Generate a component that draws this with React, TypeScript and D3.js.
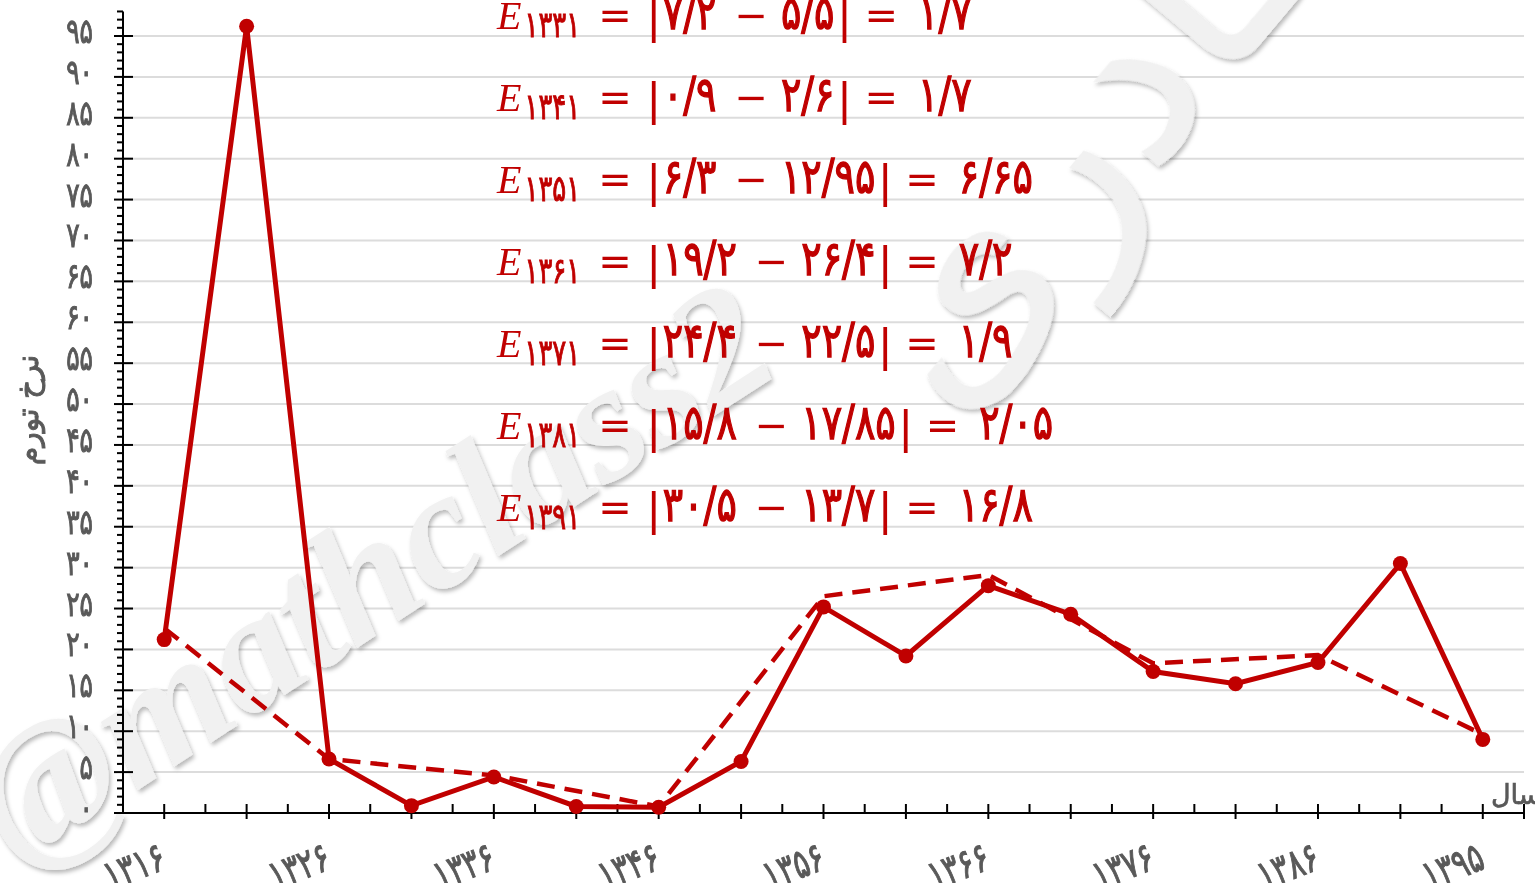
import React from 'react';
import * as d3 from 'd3';

// years on the x axis (one point every 5 years, last one 1395)
const years = [1316, 1321, 1326, 1331, 1336, 1341, 1346, 1351, 1356, 1361, 1366, 1371, 1376, 1381, 1386, 1391, 1395];
// inflation rate (solid line)
const inflation = [21.2, 96.2, 6.6, 0.9, 4.4, 0.8, 0.7, 6.3, 25.2, 19.2, 27.8, 24.3, 17.3, 15.8, 18.4, 30.5, 9.0];
// dashed line: every other year
const trendYears = [1316, 1326, 1336, 1346, 1356, 1366, 1376, 1386, 1395];
const trendValues = [22.6, 6.6, 4.6, 0.8, 26.5, 29.1, 18.3, 19.3, 9.6];
// labelled years on the x axis
const labelYears = [1316, 1326, 1336, 1346, 1356, 1366, 1376, 1386, 1395];
const yTicks = d3.range(0, 100, 5);

// error annotations
const errYears = [1331, 1341, 1351, 1361, 1371, 1381, 1391];
const errA = ['7/2', '0/9', '6/3', '19/2', '24/4', '15/8', '30/5'];
const errB = ['5/5', '2/6', '12/95', '26/4', '22/5', '17/85', '13/7'];
const errResult = ['1/7', '1/7', '6/65', '7/2', '1/9', '2/05', '16/8'];

const W = 1535;
const H = 883;
const RED = '#c00000';
const GREY = '#595959';
const FA = 'DejaVu Sans';

const fa = (v: string | number) => String(v).replace(/\d/g, (d) => '۰۱۲۳۴۵۶۷۸۹'[+d]);

let ctx: CanvasRenderingContext2D | null = null;
const measure = (text: string, font: string) => {
  if (!ctx) ctx = document.createElement('canvas').getContext('2d');
  ctx!.font = font;
  return ctx!.measureText(text).width;
};

// persian digits of DejaVu are short, so they get stretched vertically
const fonts: Record<string, { family: string; size: number; style?: string; sy: number; sw: number }> = {
  E: { family: 'Liberation Serif', size: 40, style: 'italic', sy: 1, sw: 0 },
  sub: { family: FA, size: 26, sy: 1.4, sw: 0.7 },
  op: { family: FA, size: 40, sy: 1, sw: 0 },
  bar: { family: 'Liberation Sans', size: 46, sy: 1, sw: 0 },
  num: { family: FA, size: 38, sy: 1.26, sw: 1.1 },
};

const Equation = ({ i, baseline }: { i: number; baseline: number }) => {
  const pieces = [
    { t: 'E', f: 'E', gap: 0, dy: 0 },
    { t: fa(errYears[i]), f: 'sub', gap: 3, dy: 8 },
    { t: '=', f: 'op', gap: 18, dy: 0 },
    { t: '|', f: 'bar', gap: 16, dy: 4 },
    { t: fa(errA[i]), f: 'num', gap: 3, dy: 0 },
    { t: '\u2212', f: 'op', gap: 18, dy: 0 },
    { t: fa(errB[i]), f: 'num', gap: 13, dy: 0 },
    { t: '|', f: 'bar', gap: 4, dy: 4 },
    { t: '=', f: 'op', gap: 14, dy: 0 },
    { t: fa(errResult[i]), f: 'num', gap: 20, dy: 0 },
  ];
  let x = 497;
  return (
    <g fill={RED}>
      {pieces.map((p, k) => {
        const f = fonts[p.f];
        x += p.gap;
        const px = x;
        x += measure(p.t, `${f.style || 'normal'} ${f.size}px '${f.family}'`);
        return (
          <text
            key={k}
            transform={`translate(${px},${baseline + p.dy}) scale(1,${f.sy})`}
            fontFamily={f.family}
            fontSize={f.size}
            fontStyle={f.style || 'normal'}
            stroke={f.sw ? RED : 'none'}
            strokeWidth={f.sw}
          >
            {p.t}
          </text>
        );
      })}
    </g>
  );
};

export default function App() {
  const x = d3.scaleLinear().domain([-0.5, 16.5]).range([123, 1524]);
  const y = d3.scaleLinear().domain([0, 95]).range([813, 36]);
  const xi = (yr: number) => x(years.indexOf(yr));

  const line = d3.line<number>().x((_, i) => x(i)).y((d) => y(d));
  const trendLine = d3
    .line<number>()
    .x((_, i) => xi(trendYears[i]))
    .y((d) => y(d));

  const minorY = d3.range(1, 99).filter((v) => v % 5 !== 0);
  const halfX = d3.range(0.5, 16, 1);

  return (
    <svg
      width={W}
      height={H}
      style={{ position: 'absolute', left: 0, top: 0, display: 'block', background: '#fff' }}
    >
      <defs>
        <filter id="wmShadow" x="-10%" y="-10%" width="130%" height="130%">
          <feDropShadow dx="2" dy="3" stdDeviation="2" floodColor="#000" floodOpacity="0.28" />
        </filter>
      </defs>

      {/* grid */}
      <g stroke="#dcdcdc" strokeWidth={2}>
        {yTicks.filter((v) => v > 0).map((v) => (
          <line key={v} x1={123} x2={1524} y1={y(v)} y2={y(v)} />
        ))}
      </g>

      {/* watermarks */}
      <g fill="#f1f1f1" filter="url(#wmShadow)">
        <text
          transform="translate(18,868) rotate(-33)"
          fontFamily="Liberation Serif"
          fontStyle="italic"
          fontWeight="bold"
          fontSize={168}
        >
          @mathclass2
        </text>
        <text
          transform="translate(945,420) rotate(-50)"
          fontFamily={FA}
          fontSize={250}
        >
          قادری
        </text>
      </g>

      {/* equations */}
      {errYears.map((_, i) => (
        <Equation key={i} i={i} baseline={29 + i * 82} />
      ))}

      {/* y axis */}
      <g stroke="#000" strokeWidth={2}>
        <line x1={123} x2={123} y1={y(98)} y2={813} />
        {minorY.map((v) => (
          <line key={v} x1={117} x2={123} y1={y(v)} y2={y(v)} />
        ))}
        {yTicks.map((v) => (
          <line key={'M' + v} x1={114} x2={133} y1={y(v)} y2={y(v)} />
        ))}
      </g>
      <g fill={GREY} fontFamily={FA} fontSize={25} textAnchor="end" stroke={GREY} strokeWidth={0.8}>
        {yTicks.map((v) => (
          <text key={v} transform={`translate(93,${y(v) + 7}) scale(1,1.4)`}>
            {fa(v)}
          </text>
        ))}
      </g>
      <text
        transform="translate(38,410) rotate(-90)"
        textAnchor="middle"
        fontFamily={FA}
        fontSize={30}
        fill={GREY}
        stroke={GREY}
        strokeWidth={0.9}
      >
        نرخ تورم
      </text>

      {/* x axis */}
      <g stroke="#000" strokeWidth={2}>
        <line x1={123} x2={1524} y1={813} y2={813} />
        {years.map((_, i) => (
          <line key={i} x1={x(i)} x2={x(i)} y1={804} y2={819} />
        ))}
        {halfX.map((v) => (
          <line key={'h' + v} x1={x(v)} x2={x(v)} y1={804} y2={813} />
        ))}
        <line x1={x(16.5)} x2={x(16.5)} y1={804} y2={819} />
      </g>
      <g fill={GREY} fontFamily={FA} fontSize={29} textAnchor="end" stroke={GREY} strokeWidth={0.8}>
        {labelYears.map((yr) => (
          <text key={yr} transform={`translate(${xi(yr) + 4},868) rotate(-21) scale(1,1.4)`}>
            {fa(yr)}
          </text>
        ))}
      </g>
      <text x={1491} y={804} fontFamily={FA} fontSize={27} fill={GREY} stroke={GREY} strokeWidth={0.7}>
        سال
      </text>

      {/* series */}
      <path d={line(inflation) || ''} fill="none" stroke={RED} strokeWidth={5} />
      <path
        d={trendLine(trendValues) || ''}
        fill="none"
        stroke={RED}
        strokeWidth={4.5}
        strokeDasharray="18,10"
      />
      <g fill={RED}>
        {inflation.map((v, i) => (
          <circle key={i} cx={x(i)} cy={y(v)} r={7.5} />
        ))}
      </g>
    </svg>
  );
}
